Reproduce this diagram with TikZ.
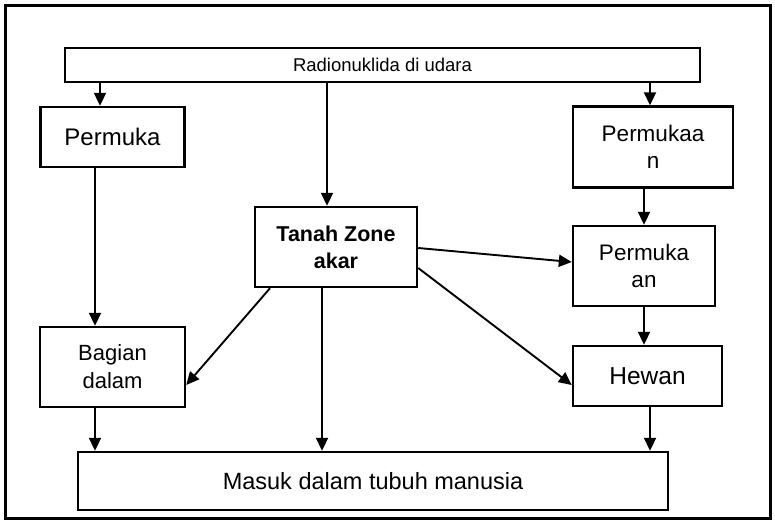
\documentclass[tikz,border=0pt]{standalone}
\usepackage{fontspec}
\setmainfont{Liberation Sans}
\usetikzlibrary{arrows.meta}
\begin{document}
\begin{tikzpicture}[x=1pt,y=-1pt,
  box/.style={draw,line width=2.4pt,rectangle,inner sep=0pt,align=center,font=\fontsize{22.5}{27}\selectfont},
  arr/.style={line width=1.9pt,-{Triangle[length=13pt,width=12pt]}}]
\useasboundingbox (0,0) rectangle (775,523);
\draw[line width=3pt] (5,5) rectangle (770,518);
\node[box,minimum width=635pt,minimum height=34pt,font=\fontsize{18.5}{22}\selectfont] (top) at (382.5,65) {Radionuklida di udara};
\node[box,minimum width=144pt,minimum height=60pt,font=\fontsize{24}{27}\selectfont] (p1) at (112.5,137) {Permuka};
\node[box,minimum width=160pt,minimum height=81pt] (p2) at (653,147) {Permukaa\\n};
\node[box,minimum width=162pt,minimum height=80pt,font=\fontsize{21.5}{27}\selectfont\bfseries] (tz) at (336,247) {Tanah Zone\\akar};
\node[box,minimum width=142pt,minimum height=80pt] (p3) at (644,266) {Permuka\\an};
\node[box,minimum width=145pt,minimum height=80pt,font=\fontsize{22}{28}\selectfont] (bd) at (112.5,367) {Bagian\\dalam};
\node[box,minimum width=149pt,minimum height=60pt,font=\fontsize{24.5}{27}\selectfont] (hw) at (647.5,376) {Hewan};
\node[box,minimum width=590pt,minimum height=58pt,font=\fontsize{23.5}{27}\selectfont] (ms) at (373,481) {Masuk dalam tubuh manusia};
% from top box
\draw[arr] ([xshift=-12.5pt]p1.north |- top.south) -- ([xshift=-12.5pt]p1.north);
\draw[arr] ([xshift=-9pt]tz.north |- top.south) -- ([xshift=-9pt]tz.north);
\draw[arr] ([xshift=-3pt]p2.north |- top.south) -- ([xshift=-3pt]p2.north);
% left column
\draw[arr] ([xshift=-17.5pt]p1.south) -- ([xshift=-17.5pt]bd.north);
% right column
\draw[arr] ([xshift=-9pt]p2.south) -- (p3.north);
\draw[arr] (p3.south) -- ([xshift=-3.5pt]hw.north);
% from Tanah Zone
\draw[arr] ([yshift=-1pt]tz.east) -- ([yshift=4pt]p3.west);
\draw[arr] ([yshift=-21pt]tz.east) -- ([yshift=-9pt]hw.west);
\draw[arr] ([xshift=-66pt]tz.south) -- ([yshift=-18pt]bd.east);
% into Masuk
\draw[arr] ([xshift=-17.5pt]bd.south) -- ([xshift=-17.5pt]bd.south |- ms.north);
\draw[arr] ([xshift=-14pt]tz.south) -- ([xshift=-14pt]tz.south |- ms.north);
\draw[arr] ([xshift=2.5pt]hw.south) -- ([xshift=2.5pt]hw.south |- ms.north);
\end{tikzpicture}
\end{document}
